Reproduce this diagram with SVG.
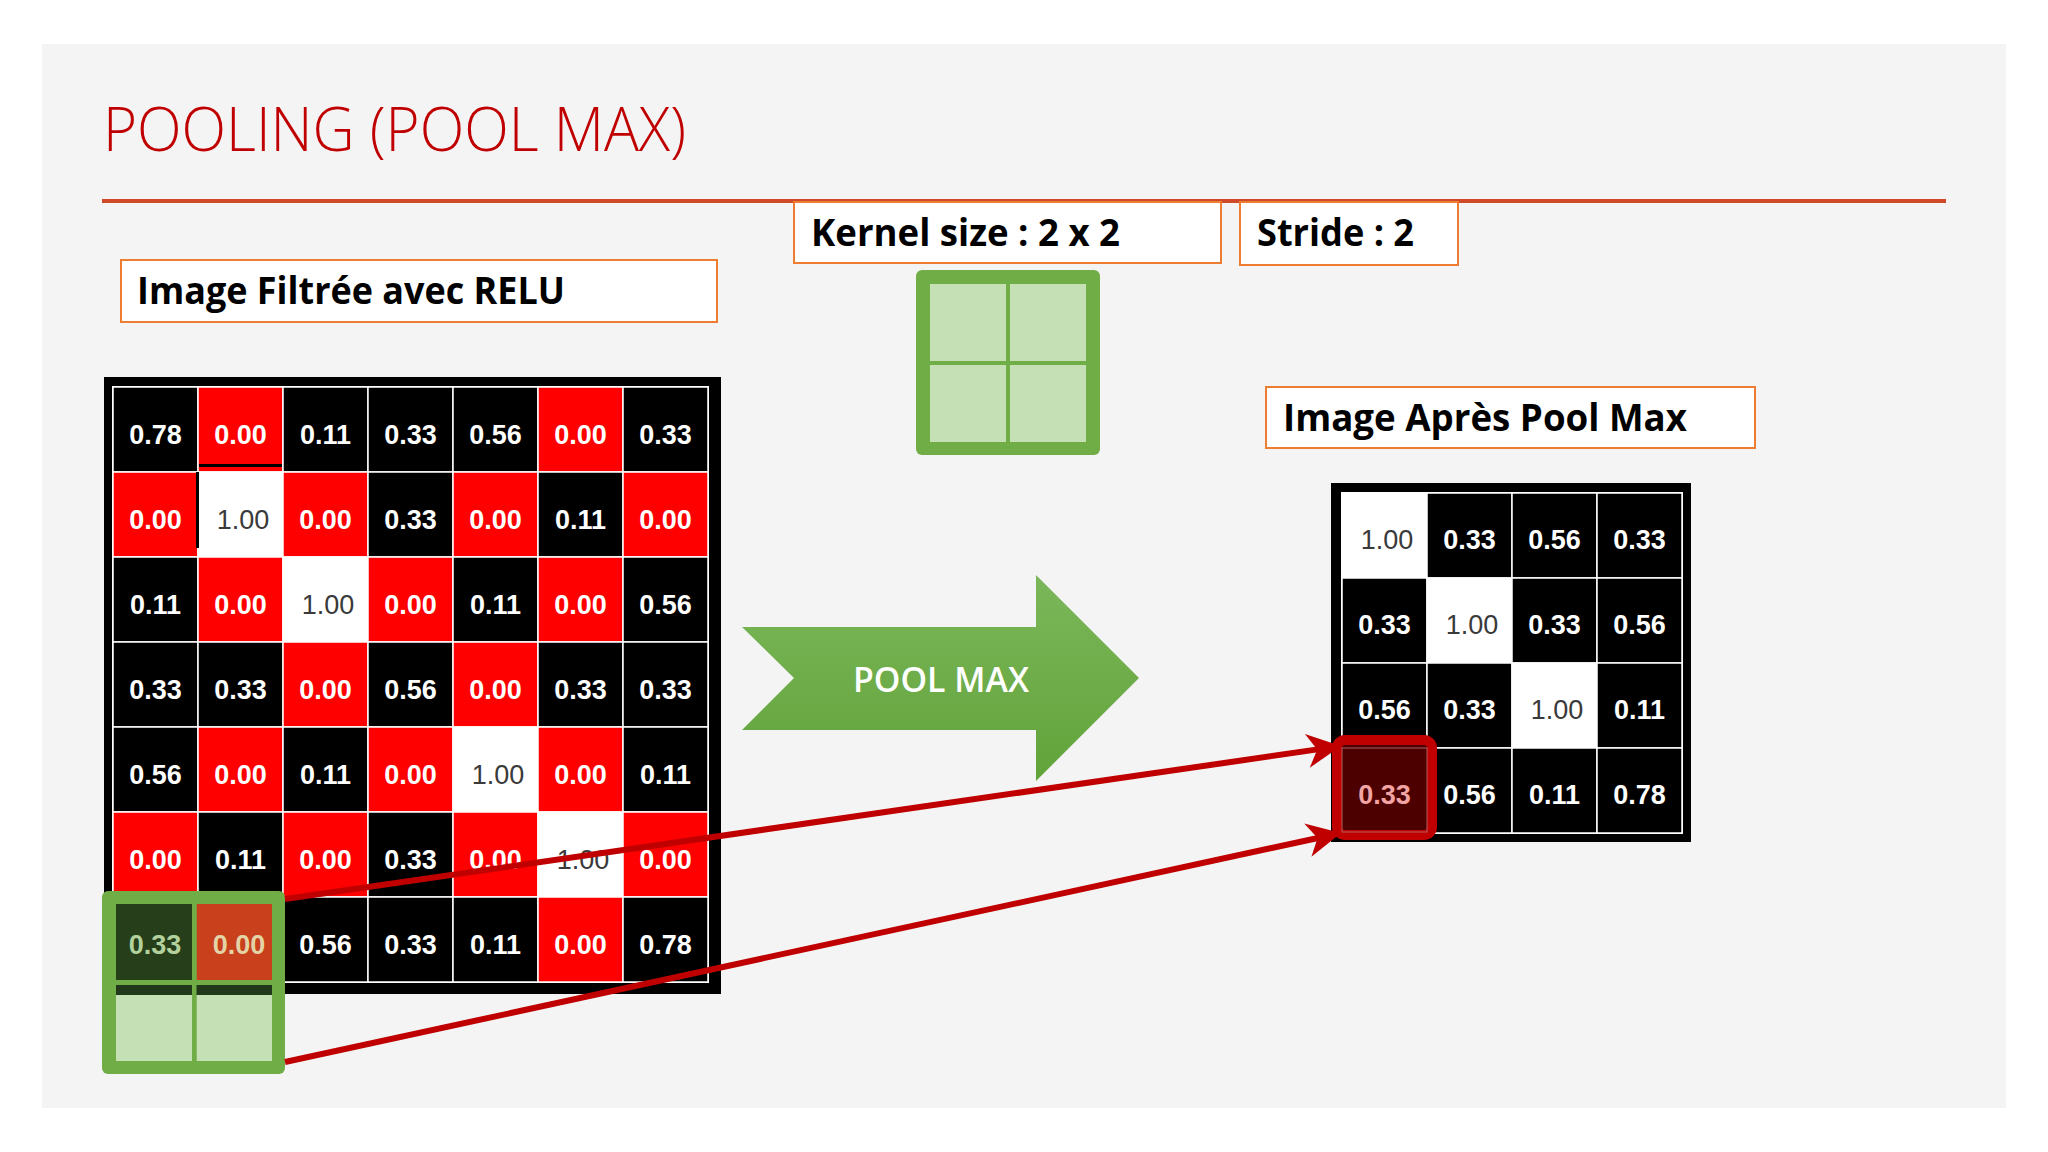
<svg xmlns="http://www.w3.org/2000/svg" width="2048" height="1152" viewBox="0 0 2048 1152">
<style>
.lbl{fill:#fff;stroke:#ed7d31;stroke-width:2}
.lt{font-family:"Open Sans","Noto Sans","Liberation Sans",sans-serif;font-weight:700;font-size:37px;fill:#000}
.cb{fill:#000;stroke:#fff;stroke-width:1.5}
.cr{fill:#ff0000;stroke:#fff;stroke-width:1.5}
.cw{fill:#fff;stroke:#fff;stroke-width:1.5}
.n{font-family:"Liberation Sans",Arial,sans-serif;font-weight:700;font-size:27px;fill:#fff;text-anchor:middle}
.g{font-family:"Liberation Sans",Arial,sans-serif;font-weight:400;font-size:27px;fill:#3a3a3a;text-anchor:middle}
.conn{stroke:#c00000;stroke-width:6;fill:none}
</style>
<defs>
<marker id="arr" markerUnits="userSpaceOnUse" viewBox="-16 -20 40 40" markerWidth="40" markerHeight="40" refX="0" refY="0" orient="auto">
<path d="M20,0 L-14,-17 L-4,0 L-14,17 Z" fill="#c00000"/>
</marker>
<linearGradient id="ga" x1="0" y1="0" x2="0" y2="1">
<stop offset="0" stop-color="#7bb75a"/>
<stop offset="1" stop-color="#62a33a"/>
</linearGradient>
</defs>
<rect x="0" y="0" width="2048" height="1152" fill="#fff"/>
<rect x="42" y="44" width="1964" height="1064" fill="#f4f4f4"/>
<g id="title">
<text x="103" y="151" font-family="'Open Sans','Noto Sans','Liberation Sans',sans-serif" font-weight="300" font-size="60" fill="#c00000" textLength="583" lengthAdjust="spacingAndGlyphs">POOLING (POOL MAX)</text>
<line x1="102" y1="201" x2="1946" y2="201" stroke="#d04a2a" stroke-width="4"/>
</g>
<g id="label-relu">
<rect class="lbl" x="121" y="260" width="596" height="62"/>
<text class="lt" x="137" y="304" textLength="428" lengthAdjust="spacingAndGlyphs">Image Filtrée avec RELU</text>
</g>
<g id="label-kernel">
<rect class="lbl" x="794" y="202" width="427" height="61"/>
<text class="lt" x="811" y="246" textLength="309" lengthAdjust="spacingAndGlyphs">Kernel size : 2 x 2</text>
</g>
<g id="label-stride">
<rect class="lbl" x="1240" y="202" width="218" height="63"/>
<text class="lt" x="1257" y="246" textLength="157" lengthAdjust="spacingAndGlyphs">Stride : 2</text>
</g>
<g id="label-after">
<rect class="lbl" x="1266" y="387" width="489" height="61"/>
<text class="lt" x="1283" y="431" textLength="404" lengthAdjust="spacingAndGlyphs">Image Après Pool Max</text>
</g>
<g id="kernel">
<rect x="916" y="270" width="184" height="185" rx="6" fill="#70ad47"/>
<rect x="930" y="284" width="156" height="158" fill="#c5e0b4"/>
<rect x="1006" y="284" width="4" height="158" fill="#70ad47"/>
<rect x="930" y="361" width="156" height="4" fill="#70ad47"/>
</g>
<g id="input-grid">
<rect x="104" y="377" width="617" height="617" fill="#000"/>
<rect x="112" y="386" width="597" height="597" fill="#fff"/>
<rect class="cb" x="113" y="387" width="85" height="85"/><text class="n" x="155.5" y="444">0.78</text>
<rect class="cr" x="198" y="387" width="85" height="85"/><text class="n" x="240.5" y="444">0.00</text>
<rect class="cb" x="283" y="387" width="85" height="85"/><text class="n" x="325.5" y="444">0.11</text>
<rect class="cb" x="368" y="387" width="85" height="85"/><text class="n" x="410.5" y="444">0.33</text>
<rect class="cb" x="453" y="387" width="85" height="85"/><text class="n" x="495.5" y="444">0.56</text>
<rect class="cr" x="538" y="387" width="85" height="85"/><text class="n" x="580.5" y="444">0.00</text>
<rect class="cb" x="623" y="387" width="85" height="85"/><text class="n" x="665.5" y="444">0.33</text>

<rect class="cr" x="113" y="472" width="85" height="85"/><text class="n" x="155.5" y="529">0.00</text>
<rect class="cw" x="198" y="472" width="85" height="85"/><text class="g" x="243" y="529">1.00</text>
<rect class="cr" x="283" y="472" width="85" height="85"/><text class="n" x="325.5" y="529">0.00</text>
<rect class="cb" x="368" y="472" width="85" height="85"/><text class="n" x="410.5" y="529">0.33</text>
<rect class="cr" x="453" y="472" width="85" height="85"/><text class="n" x="495.5" y="529">0.00</text>
<rect class="cb" x="538" y="472" width="85" height="85"/><text class="n" x="580.5" y="529">0.11</text>
<rect class="cr" x="623" y="472" width="85" height="85"/><text class="n" x="665.5" y="529">0.00</text>

<rect class="cb" x="113" y="557" width="85" height="85"/><text class="n" x="155.5" y="614">0.11</text>
<rect class="cr" x="198" y="557" width="85" height="85"/><text class="n" x="240.5" y="614">0.00</text>
<rect class="cw" x="283" y="557" width="85" height="85"/><text class="g" x="328" y="614">1.00</text>
<rect class="cr" x="368" y="557" width="85" height="85"/><text class="n" x="410.5" y="614">0.00</text>
<rect class="cb" x="453" y="557" width="85" height="85"/><text class="n" x="495.5" y="614">0.11</text>
<rect class="cr" x="538" y="557" width="85" height="85"/><text class="n" x="580.5" y="614">0.00</text>
<rect class="cb" x="623" y="557" width="85" height="85"/><text class="n" x="665.5" y="614">0.56</text>

<rect class="cb" x="113" y="642" width="85" height="85"/><text class="n" x="155.5" y="699">0.33</text>
<rect class="cb" x="198" y="642" width="85" height="85"/><text class="n" x="240.5" y="699">0.33</text>
<rect class="cr" x="283" y="642" width="85" height="85"/><text class="n" x="325.5" y="699">0.00</text>
<rect class="cb" x="368" y="642" width="85" height="85"/><text class="n" x="410.5" y="699">0.56</text>
<rect class="cr" x="453" y="642" width="85" height="85"/><text class="n" x="495.5" y="699">0.00</text>
<rect class="cb" x="538" y="642" width="85" height="85"/><text class="n" x="580.5" y="699">0.33</text>
<rect class="cb" x="623" y="642" width="85" height="85"/><text class="n" x="665.5" y="699">0.33</text>

<rect class="cb" x="113" y="727" width="85" height="85"/><text class="n" x="155.5" y="784">0.56</text>
<rect class="cr" x="198" y="727" width="85" height="85"/><text class="n" x="240.5" y="784">0.00</text>
<rect class="cb" x="283" y="727" width="85" height="85"/><text class="n" x="325.5" y="784">0.11</text>
<rect class="cr" x="368" y="727" width="85" height="85"/><text class="n" x="410.5" y="784">0.00</text>
<rect class="cw" x="453" y="727" width="85" height="85"/><text class="g" x="498" y="784">1.00</text>
<rect class="cr" x="538" y="727" width="85" height="85"/><text class="n" x="580.5" y="784">0.00</text>
<rect class="cb" x="623" y="727" width="85" height="85"/><text class="n" x="665.5" y="784">0.11</text>

<rect class="cr" x="113" y="812" width="85" height="85"/><text class="n" x="155.5" y="869">0.00</text>
<rect class="cb" x="198" y="812" width="85" height="85"/><text class="n" x="240.5" y="869">0.11</text>
<rect class="cr" x="283" y="812" width="85" height="85"/><text class="n" x="325.5" y="869">0.00</text>
<rect class="cb" x="368" y="812" width="85" height="85"/><text class="n" x="410.5" y="869">0.33</text>
<rect class="cr" x="453" y="812" width="85" height="85"/><text class="n" x="495.5" y="869">0.00</text>
<rect class="cw" x="538" y="812" width="85" height="85"/><text class="g" x="583" y="869">1.00</text>
<rect class="cr" x="623" y="812" width="85" height="85"/><text class="n" x="665.5" y="869">0.00</text>

<rect class="cb" x="113" y="897" width="85" height="85"/>
<rect class="cr" x="198" y="897" width="85" height="85"/>
<rect class="cb" x="283" y="897" width="85" height="85"/><text class="n" x="325.5" y="954">0.56</text>
<rect class="cb" x="368" y="897" width="85" height="85"/><text class="n" x="410.5" y="954">0.33</text>
<rect class="cb" x="453" y="897" width="85" height="85"/><text class="n" x="495.5" y="954">0.11</text>
<rect class="cr" x="538" y="897" width="85" height="85"/><text class="n" x="580.5" y="954">0.00</text>
<rect class="cb" x="623" y="897" width="85" height="85"/><text class="n" x="665.5" y="954">0.78</text>
<rect x="199" y="464" width="83" height="3" fill="#000"/>
<rect x="196" y="472" width="3" height="76" fill="#000"/>
</g>
<g id="kernel-overlay">
<rect x="102" y="891" width="183" height="183" rx="6" fill="#70ad47"/>
<rect x="116" y="904" width="76" height="76" fill="#263f1a"/>
<rect x="196.5" y="904" width="75.5" height="76" fill="#c8401c"/>
<text class="n" x="155" y="954" style="fill:#b3d19c">0.33</text>
<text class="n" x="239" y="954" style="fill:#e3d3a6">0.00</text>
<rect x="116" y="985" width="156" height="10" fill="#22381a"/>
<rect x="116" y="995" width="76" height="66" fill="#c5e0b4"/>
<rect x="196.5" y="995" width="75.5" height="66" fill="#c5e0b4"/>
<rect x="192" y="904" width="4.5" height="157" fill="#70ad47"/>
</g>
<g id="pool-max-arrow">
<polygon points="742,627 1036,627 1036,575 1139,678 1036,781 1036,730 742,730 794,678" fill="url(#ga)"/>
<text x="941" y="692" text-anchor="middle" font-family="'Open Sans','Noto Sans','Liberation Sans',sans-serif" font-weight="600" font-size="34" fill="#fff" textLength="176" lengthAdjust="spacingAndGlyphs">POOL MAX</text>
</g>
<g id="output-grid">
<rect x="1331" y="483" width="360" height="359" fill="#000"/>
<rect x="1341" y="492" width="342" height="342" fill="#fff"/>
<rect class="cw" x="1342" y="493" width="85" height="85"/><text class="g" x="1387" y="549">1.00</text>
<rect class="cb" x="1427" y="493" width="85" height="85"/><text class="n" x="1469.5" y="549">0.33</text>
<rect class="cb" x="1512" y="493" width="85" height="85"/><text class="n" x="1554.5" y="549">0.56</text>
<rect class="cb" x="1597" y="493" width="85" height="85"/><text class="n" x="1639.5" y="549">0.33</text>

<rect class="cb" x="1342" y="578" width="85" height="85"/><text class="n" x="1384.5" y="634">0.33</text>
<rect class="cw" x="1427" y="578" width="85" height="85"/><text class="g" x="1472" y="634">1.00</text>
<rect class="cb" x="1512" y="578" width="85" height="85"/><text class="n" x="1554.5" y="634">0.33</text>
<rect class="cb" x="1597" y="578" width="85" height="85"/><text class="n" x="1639.5" y="634">0.56</text>

<rect class="cb" x="1342" y="663" width="85" height="85"/><text class="n" x="1384.5" y="719">0.56</text>
<rect class="cb" x="1427" y="663" width="85" height="85"/><text class="n" x="1469.5" y="719">0.33</text>
<rect class="cw" x="1512" y="663" width="85" height="85"/><text class="g" x="1557" y="719">1.00</text>
<rect class="cb" x="1597" y="663" width="85" height="85"/><text class="n" x="1639.5" y="719">0.11</text>

<rect class="cb" x="1342" y="748" width="85" height="85"/>
<rect class="cb" x="1427" y="748" width="85" height="85"/><text class="n" x="1469.5" y="804">0.56</text>
<rect class="cb" x="1512" y="748" width="85" height="85"/><text class="n" x="1554.5" y="804">0.11</text>
<rect class="cb" x="1597" y="748" width="85" height="85"/><text class="n" x="1639.5" y="804">0.78</text>
</g>
<g id="highlight">
<rect x="1337" y="740" width="95" height="95" rx="8" fill="#4d0000" stroke="#c00000" stroke-width="10"/>
<rect x="1342" y="748" width="85" height="84" fill="none" stroke="#b06060" stroke-width="1"/>
<text class="n" x="1384.5" y="804" style="fill:#f2a4a4">0.33</text>
</g>
<g id="connectors">
<line class="conn" x1="285" y1="899" x2="1321.2" y2="748.9" marker-end="url(#arr)"/>
<line class="conn" x1="285" y1="1062" x2="1321.5" y2="837.2" marker-end="url(#arr)"/>
</g>
</svg>
